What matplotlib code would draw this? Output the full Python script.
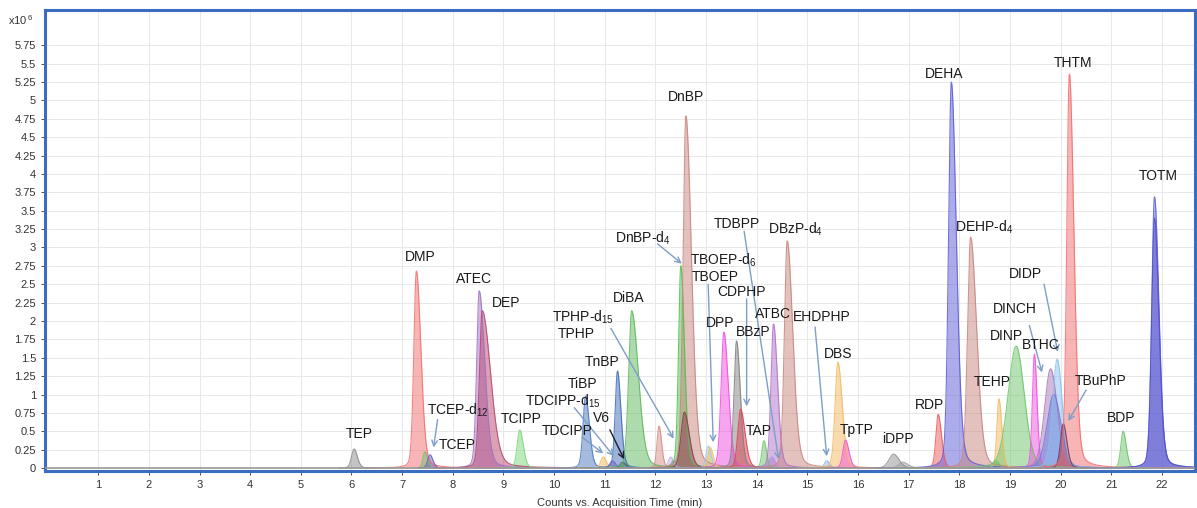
import numpy as np
import matplotlib
matplotlib.use("Agg")
import matplotlib.pyplot as plt

plt.rcParams['font.family'] = ['Liberation Sans', 'DejaVu Sans']
plt.rcParams['mathtext.default'] = 'regular'

# ---- chromatogram peaks: retention time (min), apex height (x10^6 counts)
peak_rt = [6.05, 7.28, 7.45, 7.55, 8.52, 8.58, 9.32, 10.62, 10.97, 11.15,
           11.25, 11.35, 11.53, 12.07, 12.30, 12.36, 12.50, 12.60, 12.57, 13.04,
           13.08, 13.35, 13.60, 13.68, 14.14, 14.30, 14.33, 14.60, 15.38, 15.60,
           15.75, 16.70, 16.88, 17.58, 17.84, 18.22, 18.78, 18.72, 19.12, 19.48,
           19.80, 19.86, 19.93, 20.05, 20.17, 21.23, 21.85, 21.85]
peak_height = [0.26, 2.68, 0.22, 0.18, 2.41, 2.14, 0.52, 0.98, 0.15, 0.10,
               1.32, 0.08, 2.14, 0.57, 0.15, 0.10, 2.75, 4.79, 0.76, 0.30,
               0.28, 1.85, 1.73, 0.80, 0.37, 0.15, 1.96, 3.09, 0.10, 1.44,
               0.38, 0.19, 0.08, 0.73, 5.25, 3.14, 0.94, 0.10, 1.66, 1.55,
               1.35, 1.00, 1.48, 0.60, 5.36, 0.50, 3.69, 3.40]
peak_sigma = [0.05, 0.05, 0.04, 0.045, 0.05, 0.055, 0.05, 0.05, 0.05, 0.05,
              0.045, 0.05, 0.06, 0.04, 0.05, 0.05, 0.045, 0.055, 0.065, 0.045,
              0.045, 0.055, 0.05, 0.055, 0.04, 0.05, 0.05, 0.055, 0.045, 0.055,
              0.05, 0.09, 0.08, 0.045, 0.055, 0.06, 0.04, 0.05, 0.16, 0.04,
              0.12, 0.13, 0.09, 0.055, 0.05, 0.045, 0.055, 0.055]
peak_tail = [1.3, 1.8, 1.3, 1.3, 2.2, 3.0, 1.4, 1.5, 1.2, 1.2,
             1.5, 1.2, 2.2, 1.3, 1.2, 1.2, 1.6, 2.0, 1.5, 1.3,
             1.3, 1.6, 1.5, 1.6, 1.3, 1.2, 1.6, 2.0, 1.2, 1.6,
             1.4, 1.2, 1.3, 1.5, 1.8, 2.0, 1.4, 1.2, 1.0, 1.3,
             1.1, 1.1, 1.1, 1.3, 1.8, 1.4, 1.6, 1.6]
peak_color = ['#8a8a8a', '#f26d6d', '#6cc46c', '#6a5acd', '#a070c8', '#b8466e',
              '#7cd67c', '#4a78c0', '#f4b860', '#8060d0', '#3f6bb8', '#505070',
              '#5cb85c', '#d98c84', '#c8a8e8', '#8898a8', '#4cc04c', '#c8847c',
              '#8a3a50', '#9cc8ec', '#f4c060', '#f04ce0', '#808080', '#e04050',
              '#6cc46c', '#b090e0', '#b070c8', '#c8847c', '#8cb4e8', '#f4b860',
              '#f050d8', '#909090', '#a0a0a0', '#f05a5a', '#5a5ad8', '#c8847c',
              '#f4b860', '#6cc46c', '#6cc46c', '#f050e0', '#a878b8', '#6a7ce0',
              '#8cc0f0', '#7a3050', '#f26d6d', '#6cc46c', '#6060e0', '#5050c8']

# ---- compound labels: text, position (min, x10^6), optional arrow tip
label_text = ['TEP', 'DMP', 'TCEP-d$_{12}$', 'TCEP', 'ATEC', 'DEP', 'TCIPP',
              'TDCIPP-d$_{15}$', 'TDCIPP', 'TiBP', 'V6', 'TnBP', 'TPHP-d$_{15}$',
              'TPHP', 'DiBA', 'DnBP-d$_4$', 'DnBP', 'TBOEP-d$_6$', 'TBOEP',
              'TDBPP', 'DBzP-d$_4$', 'CDPHP', 'DPP', 'BBzP', 'TAP', 'ATBC',
              'EHDPHP', 'DBS', 'TpTP', 'iDPP', 'RDP', 'DEHA', 'DEHP-d$_4$',
              'TEHP', 'DINP', 'DINCH', 'DIDP', 'BTHC', 'TBuPhP', 'THTM', 'BDP',
              'TOTM']
label_x = [6.15, 7.35, 8.10, 8.08, 8.42, 9.05, 9.34, 10.17, 10.25, 10.57,
           10.94, 10.94, 10.57, 10.43, 11.47, 11.75, 12.60, 13.33, 13.18, 13.60,
           14.77, 13.70, 13.27, 13.92, 14.04, 14.31, 15.28, 15.60, 15.97, 16.78,
           17.41, 17.69, 18.48, 18.65, 18.93, 19.09, 19.30, 19.60, 20.78, 20.25,
           21.20, 21.93]
label_y = [0.46, 2.87, 0.78, 0.31, 2.57, 2.24, 0.67, 0.91, 0.50, 1.14,
           0.68, 1.44, 2.05, 1.82, 2.31, 3.12, 5.05, 2.82, 2.60, 3.32,
           3.25, 2.39, 1.97, 1.85, 0.50, 2.10, 2.05, 1.55, 0.52, 0.40,
           0.86, 5.36, 3.28, 1.17, 1.80, 2.16, 2.64, 1.67, 1.18, 5.51,
           0.68, 3.97]
arrows = {
    'TCEP-d$_{12}$': ((7.70, 0.66), (7.62, 0.28)),
    'TDCIPP-d$_{15}$': ((10.40, 0.82), (11.18, 0.16)),
    'TDCIPP': ((10.55, 0.42), (10.97, 0.20)),
    'V6': ((11.10, 0.52), (11.38, 0.12)),
    'TPHP': ((11.12, 1.90), (12.36, 0.40)),
    'DnBP-d$_4$': ((12.04, 3.05), (12.52, 2.78)),
    'TBOEP': ((13.04, 2.50), (13.14, 0.35)),
    'TDBPP': ((13.75, 3.22), (14.43, 0.12)),
    'CDPHP': ((13.80, 2.30), (13.80, 0.84)),
    'EHDPHP': ((15.15, 1.92), (15.38, 0.16)),
    'DINCH': ((19.38, 1.94), (19.63, 1.30)),
    'DIDP': ((19.67, 2.50), (19.94, 1.58)),
    'TBuPhP': ((20.50, 1.06), (20.15, 0.64)),
}
dark_arrows = {'V6'}

x_ticks = list(range(1, 23))
y_ticks = [i * 0.25 for i in range(24)]


def peak_shape(t, rt, h, s, tail):
    sw = np.where(t < rt, s, s * tail)
    z = (t - rt) / sw
    gauss = np.exp(-0.5 * z ** 2)
    lor = 1.0 / (1.0 + (z / 1.2) ** 2)
    return h * (0.8 * gauss + 0.2 * lor)


t = np.linspace(-0.1, 22.8, 9000)

fig = plt.figure(figsize=(11.97, 5.08), dpi=100)
ax = fig.add_axes([45 / 1197, 1 - 471 / 508, 1150 / 1197, 461 / 508])

for rt, h, s, tl, c in zip(peak_rt, peak_height, peak_sigma, peak_tail, peak_color):
    y = peak_shape(t, rt, h, s, tl)
    m = y > 0.002
    ax.fill_between(t[m], 0, y[m], color=c, alpha=0.5, lw=0, zorder=2)
    ax.plot(t[m], y[m], color=c, lw=0.8, alpha=0.85, zorder=3)

ax.axhline(0, color='#9a9a9a', lw=1.2, zorder=4)

for txt, lx, ly in zip(label_text, label_x, label_y):
    ax.text(lx, ly, txt, ha='center', va='center', fontsize=10,
            color='#1a1a1a', zorder=6)
    if txt in arrows:
        (x0, y0), (x1, y1) = arrows[txt]
        col = '#1a2030' if txt in dark_arrows else '#7d9ec8'
        ax.annotate('', xy=(x1, y1), xytext=(x0, y0),
                    arrowprops=dict(arrowstyle='->', color=col, lw=1.0,
                                    shrinkA=0, shrinkB=0), zorder=5)

ax.set_xlim(-0.05, 22.65)
ax.set_ylim(-0.04, 6.23)
ax.set_xticks(x_ticks)
ax.set_xticklabels([str(v) for v in x_ticks])
ax.set_yticks(y_ticks)
ax.set_yticklabels([('%g' % v) for v in y_ticks])
ax.tick_params(axis='both', labelsize=8, colors='#333333', length=3,
               width=0.6, direction='out')
ax.grid(True, color='#e8e8e8', lw=0.7, zorder=0)
ax.set_axisbelow(True)
for sp in ax.spines.values():
    sp.set_color('#3a6cc0')
    sp.set_linewidth(2.2)

ax.set_xlabel('Counts vs. Acquisition Time (min)', fontsize=8,
              color='#333333', labelpad=6)
fig.text(8 / 1197, 1 - 20 / 508, 'x10$^{\\,6}$', fontsize=8, color='#333333',
         va='center', ha='left')

fig.savefig('out.png', dpi=100)
